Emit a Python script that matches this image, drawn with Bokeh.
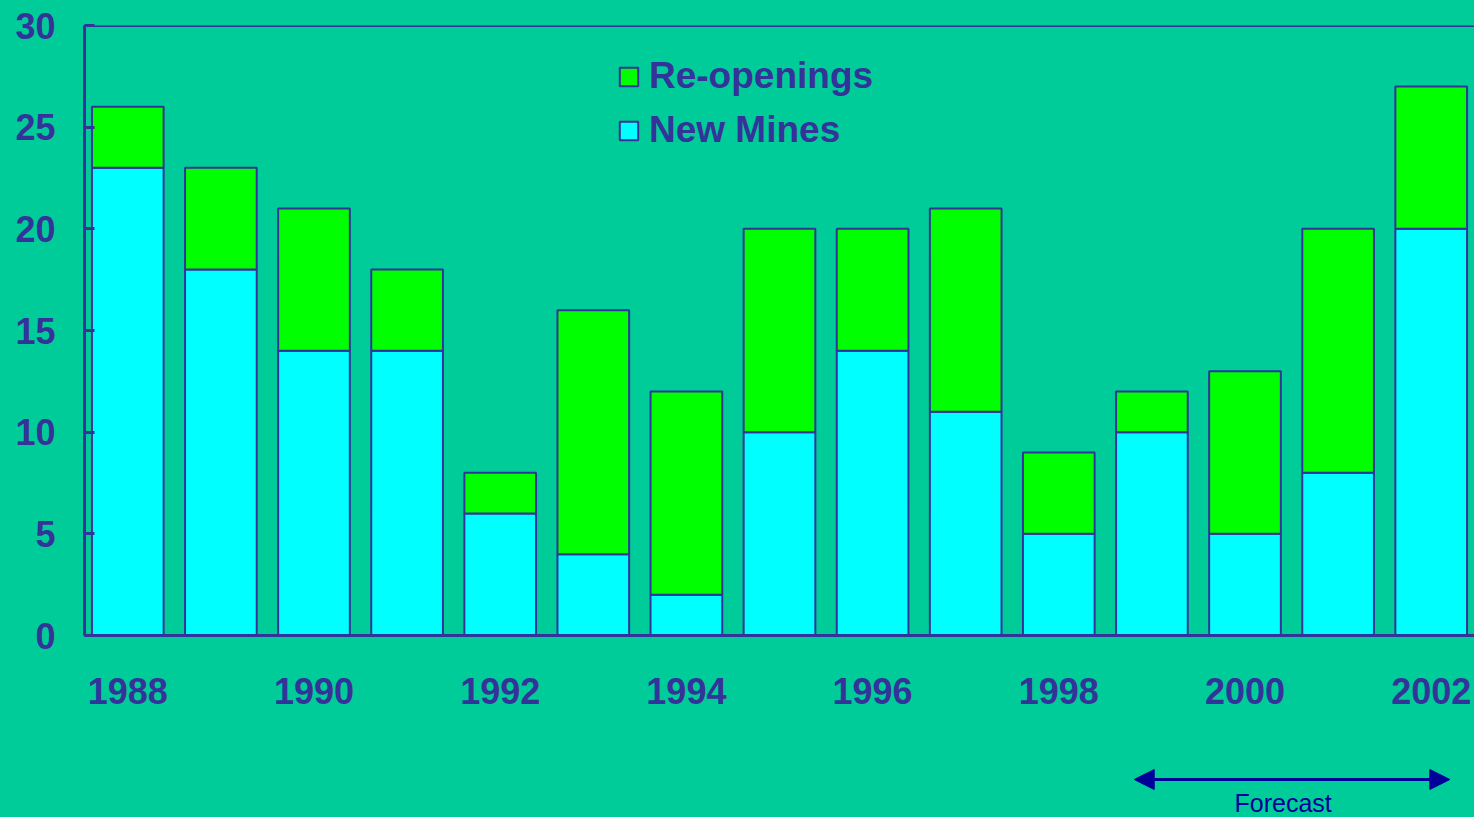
from bokeh.plotting import figure
from bokeh.layouts import column
from bokeh.models import (Range1d, FixedTicker, Span, Arrow, NormalHead, Label,
                          Legend, LegendItem, ColumnDataSource)
from bokeh.embed import file_html
from bokeh.resources import INLINE

years = ["1988", "1989", "1990", "1991", "1992", "1993", "1994", "1995",
         "1996", "1997", "1998", "1999", "2000", "2001", "2002"]
new_mines = [23, 18, 14, 14, 6, 4, 2, 10, 14, 11, 5, 10, 5, 8, 20]
reopenings = [3, 5, 7, 4, 2, 12, 10, 10, 6, 10, 4, 2, 8, 12, 7]
y_ticks = [0, 5, 10, 15, 20, 25, 30]
x_tick_years = years[::2]

BG = "#00CC99"
INK = "#333399"
NAVY = "#000099"
FONT = "Liberation Sans"

W = 1474
LEFT = 84
idx = list(range(len(years)))
source = ColumnDataSource(dict(x=idx, new=new_mines, re=reopenings))
x_range = Range1d(-0.465, 14.465)

p = figure(width=W, height=745,
           x_range=x_range, y_range=Range1d(0, 30),
           output_backend="svg", toolbar_location=None,
           min_border_left=LEFT, min_border_right=0,
           min_border_top=25, min_border_bottom=110,
           background_fill_color=BG, border_fill_color=BG,
           outline_line_color=None)
p.grid.visible = False

renderers = p.vbar_stack(["new", "re"], x="x", width=0.77, source=source,
                         fill_color=["#00FFFF", "#00FF00"],
                         line_color=INK, line_width=2)

# axes
p.yaxis.ticker = FixedTicker(ticks=y_ticks)
p.xaxis.ticker = FixedTicker(ticks=[years.index(y) for y in x_tick_years])
p.xaxis.major_label_overrides = {years.index(y): y for y in x_tick_years}
for ax in (p.xaxis, p.yaxis):
    ax.axis_line_color = INK
    ax.axis_line_width = 3
    ax.major_tick_line_color = INK
    ax.major_tick_line_width = 3
    ax.minor_tick_line_color = None
    ax.major_label_text_font = FONT
    ax.major_label_text_font_style = "bold"
    ax.major_label_text_font_size = "36px"
    ax.major_label_text_color = INK
p.yaxis.major_tick_in = 10
p.yaxis.major_tick_out = 0
p.yaxis.major_label_standoff = 29
p.xaxis.major_tick_in = 0
p.xaxis.major_tick_out = 0
p.xaxis.major_label_standoff = 42

p.add_layout(Span(location=30, dimension="width", line_color=INK, line_width=3))

legend = Legend(items=[LegendItem(label="Re-openings", renderers=[renderers[1]]),
                       LegendItem(label="New Mines", renderers=[renderers[0]])],
                location=(533, 484), orientation="vertical",
                background_fill_alpha=0, border_line_alpha=0,
                label_text_font=FONT, label_text_font_style="bold",
                label_text_font_size="37px", label_text_color=INK,
                glyph_width=23, glyph_height=23, label_standoff=9,
                spacing=12, padding=0, margin=0)
p.add_layout(legend)

# forecast strip below the chart, sharing the chart's x scale
f = figure(width=W, height=72, x_range=x_range, y_range=Range1d(0, 72),
           output_backend="svg", toolbar_location=None,
           min_border_left=LEFT, min_border_right=0,
           min_border_top=0, min_border_bottom=0,
           background_fill_alpha=0, border_fill_alpha=0,
           outline_line_color=None)
f.axis.visible = False
f.grid.visible = False
head = dict(size=20, fill_color=NAVY, line_color=NAVY)
f.add_layout(Arrow(x_start=10.81, y_start=38, x_end=14.2, y_end=38,
                   start=NormalHead(**head), end=NormalHead(**head),
                   line_color=NAVY, line_width=3))
f.add_layout(Label(x=12.41, y=15, text="Forecast", text_align="center",
                   text_baseline="middle", text_font=FONT,
                   text_font_size="25px", text_color=NAVY))

layout = column(p, f, spacing=0, styles={"background-color": BG})
open("out.html", "w").write(file_html(layout, INLINE))
